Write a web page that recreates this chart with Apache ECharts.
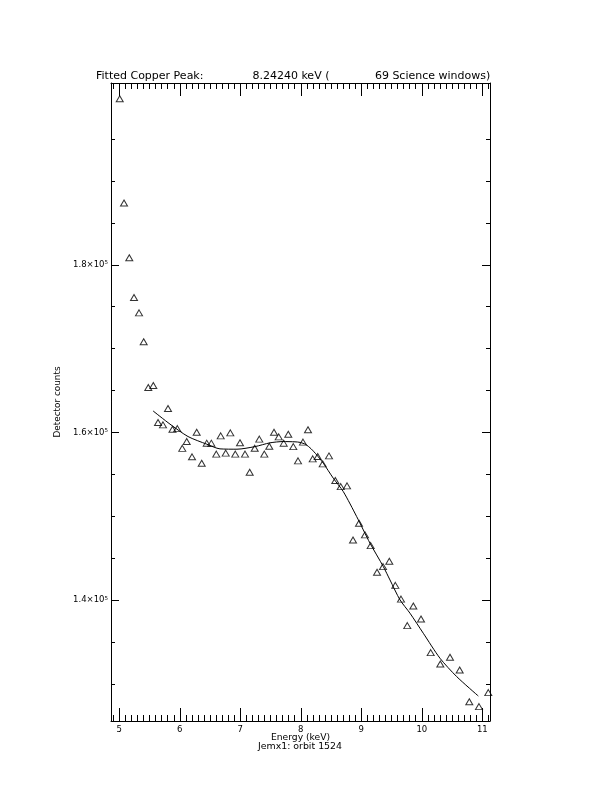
<!DOCTYPE html>
<html>
<head>
<meta charset="utf-8">
<script src="https://cdn.jsdelivr.net/npm/echarts@6/dist/echarts.min.js"></script>
<style>
html,body{margin:0;padding:0;background:#fff;}
#chart{width:612px;height:792px;}
</style>
</head>
<body>
<div id="chart"></div>
<script>
// ---- data ----
const energy = [5.007,5.078,5.165,5.243,5.326,5.403,5.479,5.562,5.640,5.722,
  5.805,5.879,5.959,6.041,6.114,6.202,6.279,6.362,6.445,6.521,
  6.603,6.676,6.759,6.835,6.917,6.995,7.078,7.155,7.238,7.314,
  7.397,7.479,7.557,7.635,7.717,7.793,7.876,7.954,8.036,8.119,
  8.197,8.279,8.362,8.466,8.570,8.660,8.764,8.863,8.962,9.061,
  9.155,9.260,9.359,9.463,9.562,9.656,9.760,9.860,9.987,10.147,
  10.306,10.466,10.626,10.785,10.945,11.099];
const counts = [199800,187360,180840,176100,174270,170820,165360,165600,161190,160910,
  162860,160380,160460,158110,158920,157100,160040,156340,158730,158730,
  157420,159600,157540,159960,157420,158770,157420,155270,158130,159210,
  157420,158370,160040,159480,158730,159800,158320,156620,158850,160320,
  156860,157130,156260,157210,154270,153550,153640,147190,149190,147790,
  146510,143340,144010,144650,141770,140130,136970,139320,137770,133750,
  132400,133200,131680,127900,127310,128980];
const fitEnergy = [5.557,5.838,6.136,6.445,6.664,6.945,7.243,7.491,7.706,7.904,
  7.990,8.080,8.170,8.263,8.372,8.537,8.702,8.924,9.144,9.364,9.474,
  9.640,9.805,10.025,10.301,10.577,10.934];
const fitCounts = [162580,161000,159520,158610,158050,158010,158320,158770,158920,158890,
  158820,158580,158060,157330,156340,154550,152960,149970,146800,144010,142420,
  140040,138450,136060,133080,130890,128580];

const xMajorTicks = [5,6,7,8,9,10,11];
const xMinorTicks = [4.9,5.1,5.2,5.3,5.4,5.5,5.6,5.7,5.8,5.9,6.1,6.2,6.3,6.4,6.5,6.6,6.7,6.8,6.9,
  7.1,7.2,7.3,7.4,7.5,7.6,7.7,7.8,7.9,8.1,8.2,8.3,8.4,8.5,8.6,8.7,8.8,8.9,
  9.1,9.2,9.3,9.4,9.5,9.6,9.7,9.8,9.9,10.1,10.2,10.3,10.4,10.5,10.6,10.7,10.8,10.9,11.1];
const yMajorTicks = [140000,160000,180000];
const yMinorTicks = [130000,135000,145000,150000,155000,165000,170000,175000,185000,190000,195000];

const titleText = 'Fitted Copper Peak:              8.24240 keV (             69 Science windows)';
const xTitle = 'Energy (keV)';
const subTitle = 'Jemx1: orbit 1524';
const yTitle = 'Detector counts';

// ---- chart ----
const FONT = 'DejaVu Sans';
const X_MIN = 4.8628, X_MAX = 11.1273;
const Y_MIN = 125600, Y_MAX = 201677;
const black = '#000';

function xAx(pos, ticks, len, labels, line) {
  return {
    type: 'value', position: pos, min: X_MIN, max: X_MAX,
    axisLine: {show: line, onZero: false, lineStyle: {color: black, width: 1}},
    axisTick: {show: true, inside: true, length: len, customValues: ticks, lineStyle: {color: black, width: 1}},
    axisLabel: labels ? {show: true, customValues: ticks, color: black, fontFamily: FONT, fontSize: 8.5, margin: 4.5,
      formatter: v => String(Math.round(v))} : {show: false},
    splitLine: {show: false}
  };
}
function yAx(pos, ticks, len, labels, line) {
  return {
    type: 'value', position: pos, min: Y_MIN, max: Y_MAX,
    axisLine: {show: line, onZero: false, lineStyle: {color: black, width: 1}},
    axisTick: {show: true, inside: true, length: len, customValues: ticks, lineStyle: {color: black, width: 1}},
    axisLabel: labels ? {show: true, customValues: ticks, color: black, fontFamily: FONT, fontSize: 8.5, margin: 3,
      formatter: v => (v / 1e5).toFixed(1) + '×10{s|5}',
      rich: {s: {fontSize: 5.5, fontFamily: FONT, color: black, verticalAlign: 'top', padding: [0, 0, 4, 0]}}} : {show: false},
    splitLine: {show: false}
  };
}

const chart = echarts.init(document.getElementById('chart'), null, {renderer: 'canvas'});
chart.setOption({
  backgroundColor: '#fff',
  animation: false,
  title: {
    text: titleText, left: 96, top: 70.5, padding: 0,
    textStyle: {fontFamily: FONT, fontSize: 11, fontWeight: 'normal', color: black}
  },
  grid: {left: 111, right: 122, top: 83, bottom: 71, containLabel: false},
  xAxis: [
    xAx('bottom', xMajorTicks, 13, true, true),
    xAx('bottom', xMinorTicks, 6, false, false),
    xAx('top', xMajorTicks, 13, false, true),
    xAx('top', xMinorTicks, 6, false, false)
  ],
  yAxis: [
    Object.assign(yAx('left', yMajorTicks, 8, true, true), {
      name: yTitle, nameLocation: 'middle', nameGap: 47,
      nameTextStyle: {fontFamily: FONT, fontSize: 8.9, color: black}
    }),
    yAx('left', yMinorTicks, 4, false, false),
    yAx('right', yMajorTicks, 8, false, true),
    yAx('right', yMinorTicks, 4, false, false)
  ],
  graphic: [{
    type: 'text', x: 300.5, y: 733.5,
    style: {text: xTitle, font: '9.2px "DejaVu Sans"', fill: black, align: 'center', verticalAlign: 'top'}
  }, {
    type: 'text', x: 300, y: 742.5,
    style: {text: subTitle, font: '9.4px "DejaVu Sans"', fill: black, align: 'center', verticalAlign: 'top'}
  }],
  series: [
    {
      type: 'scatter', xAxisIndex: 0, yAxisIndex: 0,
      data: energy.map((e, i) => [e, counts[i]]),
      symbol: 'triangle', symbolSize: [7, 6],
      itemStyle: {color: 'rgba(0,0,0,0)', borderColor: black, borderWidth: 1},
      silent: true, z: 2
    },
    {
      type: 'line', xAxisIndex: 0, yAxisIndex: 0,
      data: fitEnergy.map((e, i) => [e, fitCounts[i]]),
      showSymbol: false, smooth: 0.25,
      lineStyle: {color: black, width: 1},
      silent: true, z: 3
    }
  ]
});
</script>
</body>
</html>
